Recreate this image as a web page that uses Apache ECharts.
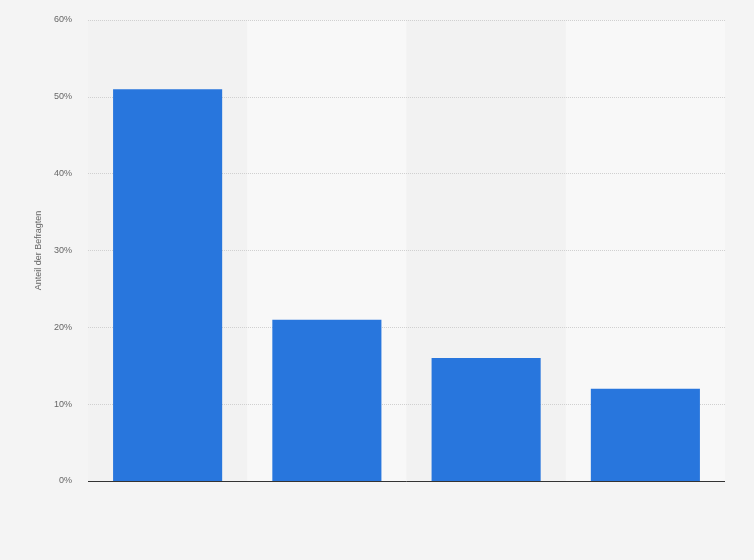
<!DOCTYPE html>
<html>
<head>
<meta charset="utf-8">
<script src="https://cdn.jsdelivr.net/npm/echarts@6/dist/echarts.min.js"></script>
<style>
  html, body { margin: 0; padding: 0; background: #f4f4f4; }
  #chart { width: 754px; height: 560px; }
</style>
</head>
<body>
<div id="chart"></div>
<script>
// Kategorien (im Original ohne sichtbare Beschriftung)
var categories = ['1', '2', '3', '4'];
// Anteil der Befragten in Prozent
var shares = [51, 21, 16, 12];
var yTicks = [0, 10, 20, 30, 40, 50, 60];

var chart = echarts.init(document.getElementById('chart'));
chart.setOption({
  backgroundColor: '#f4f4f4',
  animation: false,
  grid: { left: 88, right: 29, top: 20, bottom: 79 },
  xAxis: {
    type: 'category',
    data: categories,
    z: 0,
    axisLine: { show: false },
    axisTick: { show: false },
    axisLabel: { show: false },
    splitArea: { show: true, areaStyle: { color: ['#f2f2f2', '#f8f8f8'] } }
  },
  yAxis: {
    type: 'value',
    z: 1,
    min: yTicks[0],
    max: yTicks[yTicks.length - 1],
    interval: 10,
    name: 'Anteil der Befragten',
    nameLocation: 'middle',
    nameGap: 43,
    nameTextStyle: { color: '#666', fontSize: 9, fontFamily: 'Arial, Liberation Sans, sans-serif' },
    axisLine: { show: false },
    axisTick: { show: false },
    axisLabel: {
      color: '#666',
      fontSize: 9,
      margin: 16,
      fontFamily: 'Arial, Liberation Sans, sans-serif',
      formatter: '{value}%'
    },
    splitLine: { lineStyle: { color: '#d0d0d0', type: [1, 1] } }
  },
  series: [{
    type: 'bar',
    data: shares,
    barCategoryGap: '31.5%',
    itemStyle: { color: '#2876dd' },
    markLine: {
      silent: true,
      symbol: 'none',
      label: { show: false },
      lineStyle: { color: '#333', width: 1, type: 'solid' },
      data: [{ yAxis: yTicks[0] }]
    }
  }]
});
</script>
</body>
</html>
